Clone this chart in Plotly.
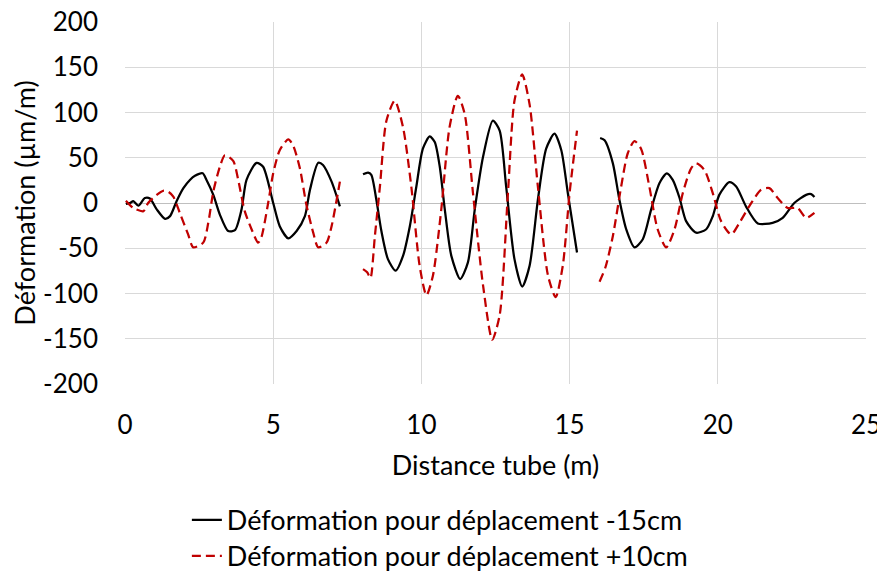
import plotly.graph_objects as go

# Series: Déformation pour déplacement -15cm (None separates the three tube sections)
x_black = [0.03, 0.17, 0.28, 0.45, 0.67, 0.84, 1.07, 1.35, 1.52, 1.74, 1.97, 2.19, 2.36, 2.62, 2.75, 2.98,
           3.2, 3.48, 3.71, 3.93, 4.1, 4.44, 4.66, 5.0, 5.22, 5.51, 5.79, 6.07, 6.24, 6.52, 6.68, 6.97, 7.25,
           None,
           8.03, 8.2, 8.31, 8.48, 8.65, 8.87, 9.13, 9.38, 9.61, 9.83, 10.05, 10.28, 10.45, 10.62, 10.79, 11.01,
           11.31, 11.57, 11.8, 12.08, 12.41, 12.64, 12.86, 13.14, 13.4, 13.65, 13.93, 14.21, 14.49, 14.72,
           14.94, 15.25,
           None,
           16.03, 16.18, 16.46, 16.68, 16.91, 17.19, 17.47, 17.75, 18.03, 18.28, 18.48, 18.71, 18.93, 19.27,
           19.61, 19.83, 20.05, 20.39, 20.62, 20.95, 21.35, 21.85, 22.19, 22.58, 22.98, 23.15, 23.26]
y_black = [-1, 0, 2, -3, 5.5, 5, -7, -17.5, -14.5, 2, 16.4, 25.5, 30, 32.8, 25.5, 9,
           -12.8, -31, -30, -7.3, 25.5, 44.4, 40, 0, -25.6, -39, -31, -14.6, 14.5, 44.4, 42, 23.6, -3.7,
           None,
           31.7, 33.5, 31, 3.6, -31, -62, -74.8, -58.4, -25.6, 18.2, 60, 73.6, 67.4, 40, -7.3, -58.4,
           -84, -65.6, -7.3, 51, 91, 80, 18, -62, -92.3, -69.3, 3.6, 60, 76.6, 58.3,
           11, -54.7,
           None,
           71.8, 69.3, 43.8, 3.6, -29, -49, -40, -7.3, 21.9, 32.8, 25.5, 5.5, -20, -32.8,
           -29, -14.6, 9, 23, 18.2, -3.7, -22.6, -21.9, -16.4, 0, 9, 9.8, 6.6]

# Series: Déformation pour déplacement +10cm
x_red = [0.03, 0.28, 0.62, 0.78, 1.07, 1.29, 1.46, 1.63, 1.85, 2.13, 2.3, 2.64, 2.81, 2.98, 3.2, 3.37,
         3.65, 3.82, 4.04, 4.27, 4.49, 4.6, 4.83, 5.0, 5.22, 5.51, 5.67, 5.9, 6.12, 6.35, 6.52, 6.8, 6.97, 7.25,
         None,
         8.03, 8.17, 8.28, 8.43, 8.6, 8.82, 9.1, 9.38, 9.66, 9.94, 10.17, 10.39, 10.67, 10.95, 11.23, 11.46,
         11.74, 12.08, 12.39, 12.64, 12.92, 13.14, 13.4, 13.65, 13.93, 14.27, 14.53, 14.77, 15.0, 15.25,
         None,
         16.01, 16.21, 16.46, 16.74, 16.96, 17.19, 17.41, 17.69, 17.97, 18.26, 18.54, 18.82, 19.1, 19.27,
         19.55, 19.83, 20.11, 20.45, 20.73, 21.06, 21.46, 21.74, 22.02, 22.36, 22.69, 22.98, 23.26]
y_red = [2.5, -5.5, -9, 0, 9, 13.5, 12.4, 7, -11, -34.7, -49, -43.8, -21.9, 12.7, 40, 52.8,
         46.6, 25.5, -9, -29, -43.8, -38, 0, 32.8, 58.3, 70.3, 63.8, 38.3, -1.9, -32.8, -49, -43.8, -25.6, 23.6,
         None,
         -73, -76.5, -83, -36.5, 18, 91, 113, 83.8, 18, -69.3, -102, -80, -7.3, 83.8, 118.5, 98.5,
         11, -91, -151, -124, 11, 113, 142, 109, 18, -80, -104, -69.3, 11, 80,
         None,
         -87, -71, -36.5, 18.2, 54.7, 68.5, 60, 18.2, -29, -49, -29, 11, 38.3, 43.8,
         36.4, 11, -20, -34.7, -21.9, -3.7, 14.6, 16.4, 5.5, -5.5, -5.5, -16.4, -11]

y_ticks = [-200, -150, -100, -50, 0, 50, 100, 150, 200]
y_tick_labels = ["-200", "-150", "-100", "-50", "0", "50", "100", "150", "200"]
x_ticks = [0, 5, 10, 15, 20, 25]
x_tick_labels = ["0", "5", "10", "15", "20", "25"]

FONT = "Lato, 'Open Sans', sans-serif"

fig = go.Figure()
fig.add_trace(go.Scatter(x=x_black, y=y_black, mode="lines", name="Déformation pour déplacement -15cm",
                         line=dict(color="#000000", width=2.25, shape="spline", smoothing=0.7),
                         connectgaps=False, legend="legend"))
fig.add_trace(go.Scatter(x=x_red, y=y_red, mode="lines", name="Déformation pour déplacement +10cm",
                         line=dict(color="#c00000", width=2.25, dash="9px,5px", shape="spline", smoothing=0.7),
                         connectgaps=False, legend="legend2"))

legend_style = dict(x=0.0835, xanchor="left", yanchor="top", orientation="v",
                    font=dict(size=27, family=FONT), itemwidth=30, bgcolor="rgba(0,0,0,0)")

# the page body adds an 8px offset; the figure is sized to fit the 885x576 window
fig.update_layout(
    width=877, height=568,
    margin=dict(l=117, r=19, t=14, b=192, autoexpand=False),
    paper_bgcolor="white", plot_bgcolor="white",
    font=dict(family=FONT, size=26, color="#000000"),
    showlegend=True,
    legend=dict(y=-0.309, **legend_style),
    legend2=dict(y=-0.4084, **legend_style),
    xaxis=dict(range=[0, 25], tickvals=x_ticks, ticktext=x_tick_labels, showgrid=True,
               gridcolor="#d9d9d9", gridwidth=1, zeroline=False, showline=False, ticks="",
               automargin=False, ticklabelstandoff=23, ticklabeloverflow="allow",
               title=dict(text="Distance tube (m)", font=dict(size=27), standoff=17),
               tickfont=dict(size=26)),
    yaxis=dict(range=[-200, 200], tickvals=y_ticks, ticktext=y_tick_labels, showgrid=True,
               gridcolor="#d9d9d9", gridwidth=1, zeroline=True, zerolinecolor="#bfbfbf", zerolinewidth=1,
               showline=False, ticks="", automargin=False, ticklabelstandoff=26, ticklabeloverflow="allow",
               title=dict(text="Déformation (µm/m)", font=dict(size=27), standoff=2),
               tickfont=dict(size=26)),
)

fig.write_html("out.html")
